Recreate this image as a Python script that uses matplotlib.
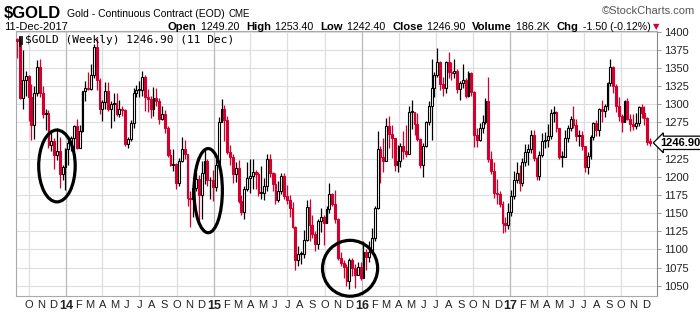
import numpy as np
import pandas as pd
import matplotlib
matplotlib.use('Agg')
import matplotlib.pyplot as plt
import matplotlib.dates as mdates
from matplotlib.patches import Rectangle, Ellipse

# weekly $GOLD bars, week starting 2013-09-02
start = '2013-09-02'
opens = [1390, 1387, 1308, 1333, 1339, 1310, 1272, 1315, 1352, 1315, 1287, 1288, 1244,
         1250, 1230, 1235, 1204, 1213, 1238, 1247, 1254, 1270, 1240, 1263, 1318, 1323,
         1321, 1340, 1379, 1333, 1294, 1303, 1318, 1293, 1300, 1302, 1287, 1293, 1292,
         1245, 1252, 1274, 1316, 1320, 1320, 1338, 1310, 1307, 1294, 1309, 1305, 1280,
         1287, 1268, 1230, 1216, 1218, 1192, 1222, 1238, 1231, 1171, 1169, 1185, 1197,
         1175, 1205, 1222, 1195, 1195, 1186, 1216, 1276, 1293, 1278, 1234, 1227, 1204,
         1212, 1167, 1152, 1183, 1199, 1201, 1206, 1204, 1178, 1178, 1188, 1225, 1205,
         1190, 1168, 1180, 1201, 1173, 1168, 1157, 1131, 1085, 1094, 1094, 1113, 1159,
         1134, 1121, 1108, 1139, 1145, 1137, 1156, 1176, 1163, 1142, 1088, 1081, 1076,
         1056, 1085, 1075, 1065, 1076, 1061, 1097, 1090, 1097, 1116, 1157, 1239, 1227,
         1222, 1270, 1259, 1254, 1217, 1222, 1243, 1235, 1231, 1290, 1290, 1273, 1252,
         1216, 1243, 1275, 1298, 1322, 1340, 1358, 1328, 1323, 1358, 1344, 1343, 1346,
         1321, 1329, 1334, 1312, 1343, 1317, 1257, 1251, 1267, 1275, 1304, 1224, 1208,
         1178, 1177, 1162, 1137, 1133, 1152, 1173, 1196, 1205, 1191, 1220, 1234, 1239,
         1257, 1226, 1201, 1230, 1249, 1251, 1256, 1288, 1289, 1268, 1228, 1228, 1254,
         1268, 1280, 1271, 1256, 1257, 1242, 1213, 1229, 1255, 1274, 1264, 1294, 1291,
         1297, 1330, 1351, 1325, 1297, 1284, 1276, 1305, 1280, 1273, 1270, 1274, 1296,
         1288, 1281, 1249.2]
highs = [1392, 1389, 1375, 1346, 1340, 1328, 1325, 1361, 1362, 1325, 1293, 1292, 1264,
         1254, 1267, 1255, 1217, 1240, 1251, 1256, 1272, 1280, 1272, 1319, 1332, 1345,
         1355, 1383, 1392, 1336, 1306, 1331, 1331, 1304, 1315, 1315, 1306, 1298, 1294,
         1255, 1278, 1322, 1326, 1332, 1346, 1341, 1321, 1311, 1324, 1322, 1309, 1297,
         1292, 1270, 1238, 1238, 1219, 1226, 1255, 1251, 1232, 1180, 1190, 1206, 1203,
         1222, 1239, 1225, 1200, 1210, 1225, 1282, 1307, 1299, 1284, 1244, 1232, 1220,
         1223, 1175, 1188, 1220, 1224, 1225, 1209, 1206, 1215, 1198, 1232, 1232, 1207,
         1205, 1194, 1205, 1205, 1189, 1175, 1165, 1132, 1105, 1098, 1127, 1168, 1170,
         1148, 1125, 1142, 1157, 1147, 1160, 1191, 1178, 1182, 1143, 1096, 1085, 1080,
         1088, 1088, 1080, 1082, 1083, 1111, 1100, 1111, 1129, 1160, 1263, 1243, 1254,
         1281, 1284, 1272, 1254, 1244, 1246, 1263, 1271, 1297, 1306, 1290, 1288, 1253,
         1246, 1277, 1305, 1362, 1345, 1377, 1359, 1337, 1360, 1372, 1358, 1362, 1349,
         1332, 1356, 1336, 1346, 1345, 1318, 1268, 1274, 1285, 1309, 1338, 1235, 1220,
         1197, 1181, 1167, 1145, 1164, 1182, 1208, 1220, 1216, 1226, 1245, 1245, 1265,
         1264, 1228, 1235, 1261, 1262, 1273, 1294, 1297, 1291, 1268, 1236, 1265, 1271,
         1284, 1298, 1280, 1264, 1263, 1243, 1234, 1257, 1275, 1278, 1295, 1306, 1300,
         1331, 1362, 1353, 1328, 1310, 1287, 1306, 1308, 1286, 1287, 1288, 1298, 1300,
         1297, 1282, 1253.4]
lows = [1364, 1307, 1294, 1312, 1277, 1251, 1252, 1312, 1310, 1281, 1264, 1240, 1236,
        1211, 1223, 1185, 1195, 1182, 1217, 1235, 1235, 1238, 1240, 1262, 1305, 1320,
        1320, 1336, 1320, 1287, 1277, 1294, 1291, 1268, 1277, 1284, 1283, 1284, 1243,
        1240, 1249, 1268, 1310, 1310, 1312, 1291, 1289, 1281, 1284, 1298, 1273, 1278,
        1260, 1228, 1215, 1208, 1183, 1187, 1220, 1225, 1160, 1131, 1145, 1180, 1140,
        1142, 1190, 1188, 1170, 1167, 1180, 1212, 1275, 1250, 1232, 1216, 1191, 1193,
        1164, 1147, 1142, 1180, 1178, 1183, 1183, 1174, 1170, 1168, 1180, 1200, 1180,
        1162, 1166, 1176, 1170, 1162, 1145, 1130, 1072, 1077, 1080, 1088, 1111, 1112,
        1116, 1098, 1101, 1124, 1106, 1136, 1150, 1160, 1136, 1085, 1077, 1061, 1050,
        1046, 1063, 1047, 1065, 1058, 1061, 1072, 1083, 1097, 1111, 1156, 1191, 1206,
        1222, 1240, 1226, 1208, 1207, 1213, 1224, 1228, 1231, 1266, 1258, 1250, 1212,
        1200, 1241, 1272, 1251, 1310, 1337, 1320, 1311, 1315, 1336, 1333, 1336, 1316,
        1306, 1322, 1308, 1310, 1312, 1241, 1241, 1250, 1261, 1273, 1220, 1204, 1171,
        1162, 1158, 1122, 1124, 1128, 1146, 1170, 1192, 1180, 1188, 1215, 1216, 1233,
        1222, 1195, 1195, 1228, 1240, 1241, 1252, 1276, 1262, 1225, 1214, 1228, 1248,
        1263, 1268, 1250, 1242, 1237, 1206, 1204, 1225, 1251, 1256, 1256, 1276, 1283,
        1292, 1325, 1316, 1289, 1277, 1262, 1276, 1278, 1263, 1264, 1266, 1270, 1281,
        1272, 1244, 1242.4]
closes = [1387, 1308, 1333, 1339, 1310, 1272, 1315, 1352, 1315, 1287, 1288, 1244, 1250,
          1230, 1235, 1204, 1213, 1238, 1247, 1254, 1270, 1240, 1263, 1318, 1323, 1321,
          1340, 1379, 1333, 1294, 1303, 1318, 1293, 1300, 1302, 1287, 1293, 1292, 1245,
          1252, 1274, 1316, 1320, 1320, 1338, 1310, 1307, 1294, 1309, 1305, 1280, 1287,
          1268, 1230, 1216, 1218, 1192, 1222, 1238, 1231, 1171, 1169, 1185, 1197, 1175,
          1205, 1222, 1195, 1195, 1186, 1216, 1276, 1293, 1278, 1234, 1227, 1204, 1212,
          1167, 1152, 1183, 1199, 1201, 1206, 1204, 1178, 1178, 1188, 1225, 1205, 1190,
          1168, 1180, 1201, 1173, 1168, 1157, 1131, 1085, 1094, 1094, 1113, 1159, 1134,
          1121, 1108, 1139, 1145, 1137, 1156, 1176, 1163, 1142, 1088, 1081, 1076, 1056,
          1085, 1075, 1065, 1076, 1061, 1097, 1090, 1097, 1116, 1157, 1239, 1227, 1222,
          1270, 1259, 1254, 1217, 1222, 1243, 1235, 1231, 1290, 1290, 1273, 1252, 1216,
          1243, 1275, 1298, 1322, 1340, 1358, 1328, 1323, 1358, 1344, 1343, 1346, 1321,
          1329, 1334, 1312, 1343, 1317, 1257, 1251, 1267, 1275, 1304, 1224, 1208, 1178,
          1177, 1162, 1137, 1133, 1152, 1173, 1196, 1205, 1191, 1220, 1234, 1239, 1257,
          1226, 1201, 1230, 1249, 1251, 1256, 1288, 1289, 1268, 1228, 1228, 1254, 1268,
          1280, 1271, 1256, 1257, 1242, 1213, 1229, 1255, 1274, 1264, 1294, 1291, 1297,
          1330, 1351, 1325, 1297, 1284, 1276, 1305, 1280, 1273, 1270, 1274, 1296, 1288,
          1281, 1248, 1246.9]

# circled areas: (centre date, centre price, width days, height price)
circles = [('2013-12-10', 1215, 90, 99),
           ('2014-12-18', 1181, 70, 116),
           ('2015-12-03', 1074, 136, 77)]

yticks = list(range(1050, 1401, 25))

RED = '#d3002f'
plt.rcParams['font.family'] = ['Liberation Sans', 'DejaVu Sans']

W, H = 700, 312
fig = plt.figure(figsize=(W / 100, H / 100), dpi=100)
ax = fig.add_axes([16 / W, (H - 296) / H, (657 - 16) / W, (296 - 31) / H])
renderer = fig.canvas.get_renderer()

dates = pd.date_range(start, periods=len(closes), freq='7D')
x = mdates.date2num(dates) + 1

# grid
for y in yticks:
    ax.axhline(y, color='#dedede', lw=0.8, zorder=0)
for d in pd.date_range('2013-10-01', '2017-12-01', freq='QS'):
    ax.axvline(mdates.date2num(d), color='#b8b8b8' if d.month == 1 else '#dedede',
               lw=0.9, zorder=0)

# candles
bw = 4.6
prev = [opens[0]] + closes[:-1]
for i in range(len(closes)):
    o, h, l, c = opens[i], highs[i], lows[i], closes[i]
    col = 'black' if c >= prev[i] else RED
    ax.vlines(x[i], l, h, color=col, lw=0.9, zorder=2)
    bot, top = min(o, c), max(o, c)
    hgt = max(top - bot, 1.0)
    fc = 'white' if c >= o else col
    ax.add_patch(Rectangle((x[i] - bw / 2, bot), bw, hgt, fc=fc, ec=col,
                           lw=0.8, zorder=3))

for d, p, wd, ht in circles:
    ax.add_patch(Ellipse((mdates.date2num(pd.Timestamp(d)), p), wd, ht, fill=False,
                         ec='black', lw=2.3, zorder=5, clip_on=False))

ax.set_xlim(mdates.date2num(pd.Timestamp('2013-08-31')),
            mdates.date2num(pd.Timestamp('2017-12-29')))
ax.set_ylim(1035.8, 1401)

# axes styling
for s in ['top', 'left', 'bottom']:
    ax.spines[s].set_color('#aaaaaa')
    ax.spines[s].set_linewidth(0.8)
ax.spines['right'].set_color('#888888')
ax.yaxis.tick_right()
# the 1250 label sits under the last-price box in the original
ax.set_yticks(yticks, labels=['' if v == 1250 else str(v) for v in yticks])
ax.tick_params(axis='y', length=3, width=0.6, color='#888888', labelsize=8, pad=2,
               labelcolor='#222222')

months = pd.date_range('2013-10-01', '2017-12-01', freq='MS')
ax.set_xticks(mdates.date2num(months))
labels = [d.strftime('%y') if d.month == 1 else d.strftime('%b')[0] for d in months]
ax.set_xticklabels(labels)
ax.tick_params(axis='x', length=0, labelsize=8, pad=3, labelcolor='#222222')
for t, d in zip(ax.get_xticklabels(), months):
    if d.month == 1:
        t.set_fontweight('bold')
        t.set_fontsize(9)

# last price box
ax.annotate('1246.90', xy=(1.0, 1246.9), xycoords=('axes fraction', 'data'),
            xytext=(2.5, 0), textcoords='offset points', va='center', ha='left',
            fontsize=8, fontweight='bold', zorder=10,
            bbox=dict(boxstyle='larrow,pad=0.15', fc='white', ec='black', lw=0.9),
            annotation_clip=False)

# legend text inside plot
ax.text(0.014, 0.965, '$GOLD (Weekly) 1246.90 (11 Dec)', transform=ax.transAxes,
        family='DejaVu Sans Mono', fontsize=8, va='center', ha='left')
for dx, y0, h0, fc in [(0.004, 0.945, 0.035, 'black'), (0.0075, 0.95, 0.03, 'white')]:
    ax.add_patch(Rectangle((dx, y0), 0.0025, h0, transform=ax.transAxes, fc=fc,
                           ec='black', lw=0.6, zorder=6))

# header
def fx(px):
    return px / W

def fy(py):
    return 1 - py / H

fig.text(fx(4), fy(13), '$GOLD', fontsize=12, fontweight='bold', va='center')
t = fig.text(fx(67), fy(14), 'Gold - Continuous Contract (EOD)', fontsize=7.5, va='center')
xe = t.get_window_extent(renderer).x1
fig.text(fx(xe + 4), fy(14), 'CME', fontsize=7, va='center')
fig.text(fx(695), fy(11), '\u00a9StockCharts.com', fontsize=8, color='#555555',
         ha='right', va='center')
fig.text(fx(4), fy(27), '11-Dec-2017', fontsize=8, va='center')

parts = [('Open', 'bold'), (' 1249.20  ', 'normal'), ('High', 'bold'), (' 1253.40  ', 'normal'),
         ('Low', 'bold'), (' 1242.40  ', 'normal'), ('Close', 'bold'), (' 1246.90  ', 'normal'),
         ('Volume', 'bold'), (' 186.2K  ', 'normal'), ('Chg', 'bold'),
         (' -1.50 (-0.12%)', 'normal')]
# measure once, then scale sizes so the line ends where the original does
scale = 1.0
for attempt in range(2):
    xp = 168
    made = []
    for txt, wt in parts:
        t = fig.text(fx(xp), fy(27), txt, fontsize=(8.5 if wt == 'bold' else 8) * scale,
                     fontweight=wt, va='center')
        made.append(t)
        xp = t.get_window_extent(renderer).x1 + 1
    if attempt == 0:
        scale = min(1.0, (650 - 168) / (xp - 168))
        for t in made:
            t.remove()
fig.text(fx(xp + 2), fy(27), '\u25bc', fontsize=6, color=RED, va='center',
         family='DejaVu Sans')

fig.savefig('out.png', dpi=100)
